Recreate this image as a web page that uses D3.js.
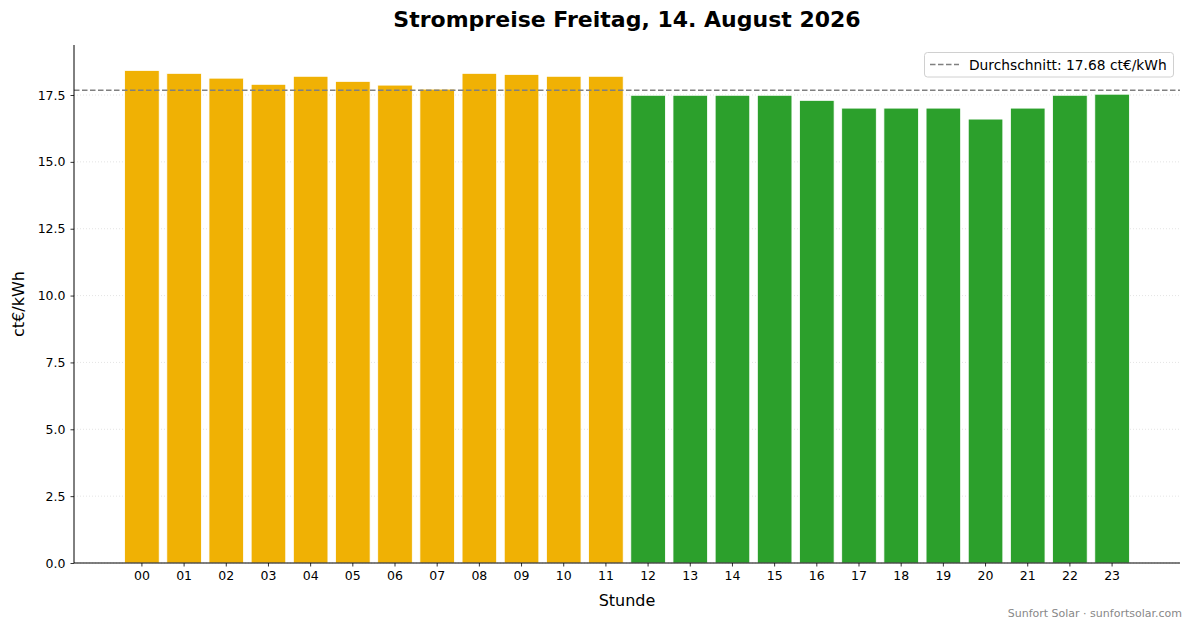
<!DOCTYPE html>
<html>
<head>
<meta charset="utf-8">
<script src="https://cdn.jsdelivr.net/npm/d3@7"></script>
<style>
  body { margin: 0; background: #fff; }
  svg { font-family: "DejaVu Sans", sans-serif; }
</style>
</head>
<body>
<svg width="1193" height="628"></svg>
<script>
// Stunden und Preise (ct/kWh)
var hours = ['00','01','02','03','04','05','06','07','08','09','10','11',
             '12','13','14','15','16','17','18','19','20','21','22','23'];
var prices = [18.42, 18.31, 18.13, 17.90, 18.20, 18.01, 17.87, 17.72, 18.31, 18.27, 18.20, 18.20,
              17.49, 17.49, 17.49, 17.49, 17.30, 17.01, 17.01, 17.01, 16.60, 17.01, 17.49, 17.53];
var average = 17.68;
var yTicks = [0, 2.5, 5, 7.5, 10, 12.5, 15, 17.5];

var svg = d3.select('svg');
var plotLeft = 74, plotRight = 1180, plotTop = 45, plotBottom = 563;

var x = d3.scaleBand()
    .domain(hours)
    .range([plotLeft, plotRight])
    .paddingInner(0.18)
    .paddingOuter(1.2);

var y = d3.scaleLinear()
    .domain([0, 19.37])
    .range([plotBottom, plotTop]);

// gridlines
svg.selectAll('.grid')
    .data(yTicks).enter()
    .append('line')
    .attr('x1', plotLeft)
    .attr('x2', plotRight)
    .attr('y1', function(d){ return y(d) })
    .attr('y2', function(d){ return y(d) })
    .attr('stroke', '#dddddd')
    .attr('stroke-width', 0.8)
    .attr('stroke-dasharray', '1,2');

// bars
svg.selectAll('.bar')
    .data(prices).enter()
    .append('rect')
    .attr('x', function(d, i){ return x(hours[i]) })
    .attr('width', x.bandwidth())
    .attr('y', function(d){ return y(d) })
    .attr('height', function(d){ return y(0) - y(d) })
    .attr('fill', function(d, i){ return i < 12 ? '#f0b104' : '#2ca02c' })
    .attr('stroke', '#ffffff')
    .attr('stroke-width', 0.8);

// Durchschnitt
svg.append('line')
    .attr('x1', plotLeft)
    .attr('x2', plotRight)
    .attr('y1', y(average))
    .attr('y2', y(average))
    .attr('stroke', '#808080')
    .attr('stroke-width', 1.5)
    .attr('stroke-dasharray', '5.5,2.5');

// axes
var xAxis = svg.append('g')
    .attr('transform', 'translate(0,' + plotBottom + ')')
    .call(d3.axisBottom(x).tickSize(3.5).tickPadding(5).tickSizeOuter(0));
var yAxis = svg.append('g')
    .attr('transform', 'translate(' + plotLeft + ',0)')
    .call(d3.axisLeft(y).tickValues(yTicks).tickFormat(d3.format('.1f')).tickSize(3.5).tickPadding(5).tickSizeOuter(0));

[xAxis, yAxis].forEach(function(g){
    g.selectAll('text').attr('font-family', '"DejaVu Sans", sans-serif').attr('font-size', 12.5).attr('fill', '#000');
    g.selectAll('line').attr('stroke', '#000').attr('stroke-width', 0.8);
    g.select('.domain').attr('stroke', '#000').attr('stroke-width', 1);
});
xAxis.select('.domain').attr('d', 'M' + plotLeft + ',0H' + plotRight);
yAxis.select('.domain').attr('d', 'M0,' + plotTop + 'V' + plotBottom);

// title and labels
svg.append('text')
    .attr('x', (plotLeft + plotRight) / 2)
    .attr('y', 27)
    .attr('text-anchor', 'middle')
    .attr('font-size', 22)
    .attr('font-weight', 'bold')
    .text('Strompreise Freitag, 14. August 2026');

svg.append('text')
    .attr('x', (plotLeft + plotRight) / 2)
    .attr('y', 606)
    .attr('text-anchor', 'middle')
    .attr('font-size', 16)
    .text('Stunde');

svg.append('text')
    .attr('transform', 'translate(24,' + ((plotTop + plotBottom) / 2) + ') rotate(-90)')
    .attr('text-anchor', 'middle')
    .attr('font-size', 16)
    .text('ct€/kWh');

// legend
var legend = svg.append('g');
legend.append('rect')
    .attr('x', 924.5)
    .attr('y', 52.5)
    .attr('width', 249)
    .attr('height', 24.5)
    .attr('rx', 3)
    .attr('fill', '#ffffff')
    .attr('fill-opacity', 0.8)
    .attr('stroke', '#d0d0d0');
legend.append('line')
    .attr('x1', 930)
    .attr('x2', 959)
    .attr('y1', 64.5)
    .attr('y2', 64.5)
    .attr('stroke', '#808080')
    .attr('stroke-width', 1.5)
    .attr('stroke-dasharray', '5.5,2.5');
legend.append('text')
    .attr('x', 969)
    .attr('y', 69.5)
    .attr('font-size', 13.8)
    .text('Durchschnitt: ' + average.toFixed(2) + ' ct€/kWh');

// footer
svg.append('text')
    .attr('x', 1182)
    .attr('y', 617)
    .attr('text-anchor', 'end')
    .attr('font-size', 11)
    .attr('fill', '#888888')
    .text('Sunfort Solar · sunfortsolar.com');
</script>
</body>
</html>
